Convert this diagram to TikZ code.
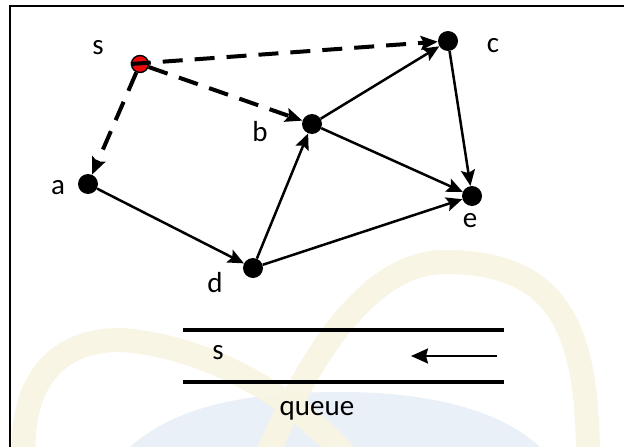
\documentclass[tikz,border=0pt]{standalone}
\usepackage{fontspec}
\setmainfont{Carlito}
\usetikzlibrary{arrows.meta}

\definecolor{wmyellow}{RGB}{249,245,226}
\definecolor{wmblue}{RGB}{234,240,247}
\definecolor{sred}{RGB}{235,10,10}

\tikzset{
  vertex/.style={circle, fill=black, inner sep=0pt, minimum size=20pt},
  source/.style={circle, fill=sred, draw=black, line width=1.4pt, inner sep=0pt, minimum size=17pt},
  lbl/.style={inner sep=0pt, font=\fontsize{29}{32}\selectfont},
  tip/.style={-{Stealth[length=16pt,width=14pt,inset=3pt]}},
  edge/.style={tip, line width=2.5pt},
  treeedge/.style={-{Stealth[length=17pt,width=14pt,inset=3pt]}, line width=4pt, dash pattern=on 20pt off 12pt},
  pipe/.style={line width=4.5pt},
  flow/.style={-{Stealth[length=17pt,width=15pt,inset=2pt]}, line width=2.2pt},
}

\begin{document}
\begin{tikzpicture}[x=1pt, y=-1pt]
\useasboundingbox (0,0) rectangle (624,447);
\fill[white] (0,0) rectangle (624,447);

% faint background emblem
\fill[wmblue] (130,447) .. controls (180,402) and (260,392) .. (340,392)
  .. controls (430,392) and (500,410) .. (540,447) -- cycle;
\draw[wmyellow, line width=24pt, opacity=0.9]
  (24,460) .. controls (18,360) and (80,332) .. (140,342)
  .. controls (210,352) and (290,392) .. (350,460);
\draw[wmyellow, line width=24pt, opacity=0.9]
  (265,460) .. controls (320,330) and (380,262) .. (445,262)
  .. controls (560,262) and (588,330) .. (588,460);

% frame
\draw[line width=2pt] (10,447) -- (10,6) -- (624,6);

% vertices
\node[source] (s) at (140,64) {};
\node[vertex] (a) at (88,184) {};
\node[vertex] (b) at (312,124) {};
\node[vertex] (c) at (448,41) {};
\node[vertex] (d) at (253,268) {};
\node[vertex] (e) at (472,196) {};

% vertex labels
\node[lbl] (ls) at (98,48) {s};
\node[lbl] (lc) at (493,46) {c};
\node[lbl] (lb) at (260,132) {b};
\node[lbl] (la) at (58,188) {a};
\node[lbl] (le) at (470,221) {e};
\node[lbl] (ld) at (215,283) {d};

% tree edges out of s
\draw[treeedge] (s.west) -- (c);
\draw[treeedge] (s) -- (b);
\draw[treeedge] (s) -- (a);

% remaining edges
\draw[edge] (a) -- (d);
\draw[edge] (d) -- (b);
\draw[edge] (b) -- (c);
\draw[edge] (b) -- (e);
\draw[edge] (c) -- (e);
\draw[edge] (d) -- (e);

% queue
\coordinate (qtl) at (183,330);
\coordinate (qtr) at (504,330);
\coordinate (qbl) at (183,382);
\coordinate (qbr) at (504,382);
\draw[pipe] (qtl) -- (qtr);
\draw[pipe] (qbl) -- (qbr);
\coordinate (fstart) at (497,356);
\coordinate (fend) at (411,356);
\draw[flow] (fstart) -- (fend);
\node[lbl] (qs) at (218,353) {s};
\node[lbl] (qlabel) at (317,411) {queue};
\end{tikzpicture}
\end{document}
